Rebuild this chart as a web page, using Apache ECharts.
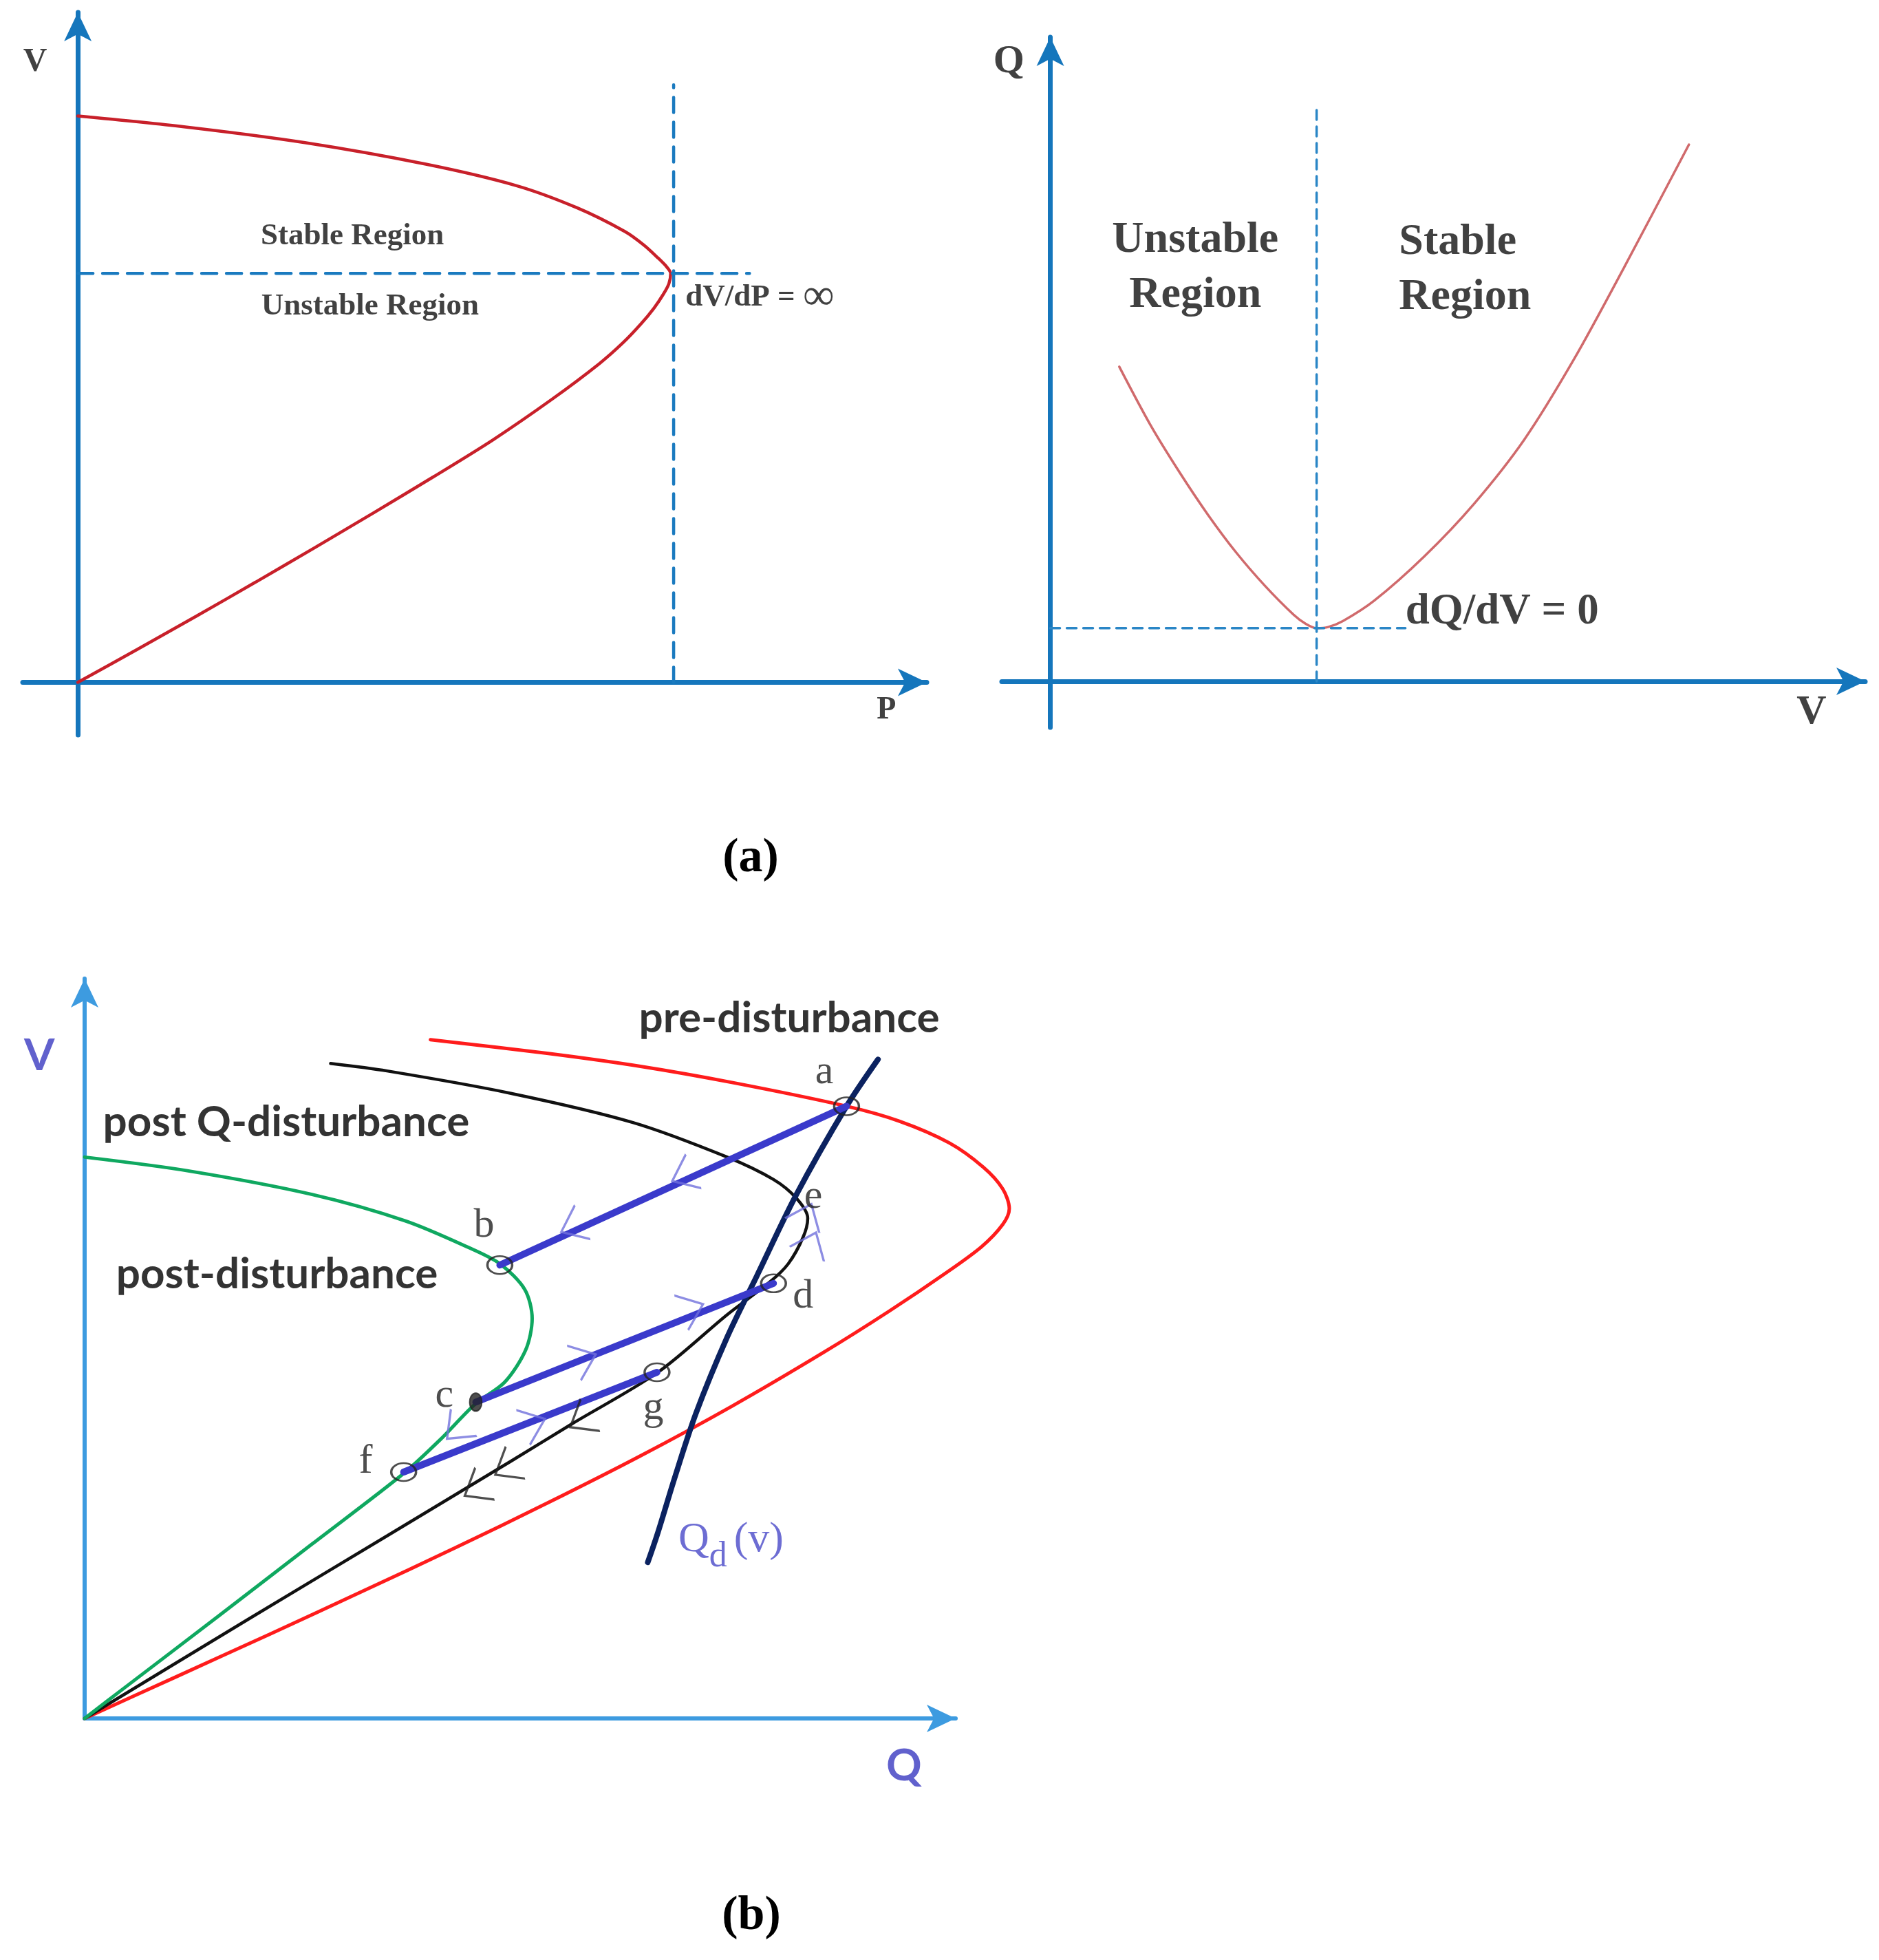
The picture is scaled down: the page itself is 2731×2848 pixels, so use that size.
<!DOCTYPE html>
<html>
<head>
<meta charset="utf-8">
<script src="https://cdn.jsdelivr.net/npm/echarts@6/dist/echarts.min.js"></script>
<style>
    html, body {margin: 0; padding: 0; background: #fff;}
    #main {width: 2731px; height: 2848px;}
</style>
</head>
<body>
<div id="main"></div>
<script>
    //(a) left : P-V nose curve  [P, V]
    var pvCurve = [[0, 1.000], [0.179, 0.981], [0.383, 0.953], [0.587, 0.915], [0.740, 0.877], [0.842, 0.838],
        [0.923, 0.796], [0.955, 0.772], [0.978, 0.750], [0.993, 0.734], [1.000, 0.722], [0.997, 0.704],
        [0.988, 0.686], [0.972, 0.661], [0.950, 0.633], [0.920, 0.600], [0.880, 0.563], [0.800, 0.500],
        [0.700, 0.428], [0.600, 0.363], [0.500, 0.300], [0.400, 0.238], [0.300, 0.177], [0.200, 0.117],
        [0.100, 0.058], [0, 0]];
    var pvNoseH = [[0, 0.722], [1.133, 0.722]];
    var pvNoseV = [[1.005, 0], [1.005, 1.055]];

    //(a) right : Q-V curve  [V, Q]
    var qvCurve = [[0.108, 0.586], [0.157, 0.477], [0.202, 0.390], [0.247, 0.310], [0.291, 0.240],
        [0.336, 0.178], [0.381, 0.124], [0.400, 0.107], [0.417, 0.099], [0.435, 0.101], [0.458, 0.112],
        [0.507, 0.150], [0.585, 0.232], [0.663, 0.330], [0.742, 0.450], [0.820, 0.600], [0.898, 0.770],
        [1.000, 1.000]];
    var qvMinH = [[0, 0.099], [0.556, 0.099]];
    var qvMinV = [[0.417, 0], [0.417, 1.065]];

    //(b) Q-V curves  [Q, V]
    var preDist = [[0.374, 1.000], [0.500, 0.980], [0.600, 0.961], [0.700, 0.937], [0.824, 0.902],
        [0.881, 0.880], [0.935, 0.848], [0.972, 0.812], [0.993, 0.780], [1.000, 0.751], [0.993, 0.728],
        [0.970, 0.695], [0.930, 0.655], [0.870, 0.600], [0.800, 0.540], [0.700, 0.460], [0.600, 0.386],
        [0.500, 0.317], [0.400, 0.251], [0.300, 0.187], [0.200, 0.124], [0.100, 0.062], [0, 0]];
    var postQDist = [[0.266, 0.965], [0.327, 0.954], [0.461, 0.921], [0.593, 0.878], [0.695, 0.827],
        [0.745, 0.794], [0.770, 0.766], [0.782, 0.737], [0.777, 0.709], [0.761, 0.670], [0.741, 0.643],
        [0.695, 0.595], [0.620, 0.510], [0.527, 0.434], [0.461, 0.379], [0.327, 0.269], [0.178, 0.147], [0, 0]];
    var postDist = [[0, 0.827], [0.111, 0.807], [0.246, 0.772], [0.347, 0.733], [0.415, 0.694],
        [0.449, 0.670], [0.476, 0.632], [0.484, 0.589], [0.477, 0.543], [0.454, 0.495], [0.423, 0.464],
        [0.384, 0.410], [0.345, 0.361], [0.246, 0.257], [0.145, 0.151], [0.043, 0.045], [0, 0]];
    var qdCurve = [[0.858, 0.971], [0.824, 0.902], [0.769, 0.770], [0.727, 0.652], [0.695, 0.562],
        [0.661, 0.449], [0.638, 0.354], [0.620, 0.274], [0.609, 0.230]];

    var pA = [0.824, 0.902], pB = [0.449, 0.668], pC = [0.423, 0.466];
    var pD = [0.745, 0.641], pF = [0.345, 0.363], pG = [0.619, 0.510];
    var jumps = [[pA, pB], [pC, pD], [pF, pG]];
    var circles = [pA, pB, pD, pG, pF];

    //箭头 : 位置, 方向(从 -> 到)
    var chevrons = [
        {at: [0.647, 0.799], from: pA, to: pB, c: '#7070dc'},
        {at: [0.527, 0.724], from: pA, to: pB, c: '#7070dc'},
        {at: [0.541, 0.530], from: pC, to: pD, c: '#7070dc'},
        {at: [0.657, 0.604], from: pC, to: pD, c: '#7070dc'},
        {at: [0.486, 0.435], from: pF, to: pG, c: '#7070dc'},
        {at: [0.401, 0.424], from: pC, to: pF, c: '#7070dc'},
        {at: [0.536, 0.438], from: pG, to: [0, 0], c: '#222'},
        {at: [0.455, 0.368], from: pG, to: [0, 0], c: '#222'},
        {at: [0.422, 0.337], from: pG, to: [0, 0], c: '#222'},
        {at: [0.786, 0.700], from: [0.761, 0.670], to: [0.782, 0.737], c: '#7070dc'},
        {at: [0.781, 0.742], from: [0.761, 0.670], to: [0.782, 0.737], c: '#7070dc'}
    ];

    var serif = '"Liberation Serif", "DejaVu Serif", serif';
    var sans = 'Lato, "Open Sans", sans-serif';
    var ink = '#111';

    var textsA = [
        {gi: 0, at: [-0.072, 1.095], text: 'V', s: {fontFamily: serif, fontWeight: 'bold', fontSize: 48, color: ink}},
        {gi: 0, at: [1.364, -0.049], text: 'P', s: {fontFamily: serif, fontWeight: 'bold', fontSize: 46, color: ink}},
        {gi: 0, at: [0.463, 0.788], text: 'Stable Region', s: {fontFamily: serif, fontWeight: 'bold', fontSize: 45, color: ink}},
        {gi: 0, at: [0.493, 0.664], text: 'Unstable Region', s: {fontFamily: serif, fontWeight: 'bold', fontSize: 45, color: ink}},
        {gi: 0, at: [1.025, 0.680], text: '{t|dV/dP = }{i|\u221E}', s: {
            align: 'left',
            rich: {
                t: {fontFamily: serif, fontWeight: 'bold', fontSize: 45, color: ink},
                i: {fontFamily: serif, fontSize: 64, color: ink}
            }
        }},
        {gi: 1, at: [-0.065, 1.154], text: 'Q', s: {fontFamily: serif, fontWeight: 'bold', fontSize: 58, color: ink}},
        {gi: 1, at: [1.192, -0.058], text: 'V', s: {fontFamily: serif, fontWeight: 'bold', fontSize: 60, color: ink}},
        {gi: 1, at: [0.227, 0.770], text: 'Unstable\nRegion', s: {fontFamily: serif, fontWeight: 'bold', fontSize: 64, lineHeight: 80, color: ink, align: 'center'}},
        {gi: 1, at: [0.546, 0.766], text: 'Stable\nRegion', s: {fontFamily: serif, fontWeight: 'bold', fontSize: 64, lineHeight: 80, color: ink, align: 'left'}},
        {gi: 1, at: [0.556, 0.128], text: 'dQ/dV = 0', s: {fontFamily: serif, fontWeight: 'bold', fontSize: 63, color: ink, align: 'left'}}
    ];
    var textsB = [
        {at: [-0.049, 0.976], text: 'V', s: {fontFamily: sans, fontWeight: 'bold', fontSize: 64, color: '#3a3ac0'}},
        {at: [0.886, -0.070], text: 'Q', s: {fontFamily: sans, fontWeight: 'bold', fontSize: 64, color: '#3a3ac0'}},
        {at: [0.762, 1.031], text: 'pre-disturbance', s: {fontFamily: sans, fontWeight: 'bold', fontSize: 62, color: '#000'}},
        {at: [0.218, 0.878], text: 'post Q-disturbance', s: {fontFamily: sans, fontWeight: 'bold', fontSize: 62, color: '#000'}},
        {at: [0.208, 0.654], text: 'post-disturbance', s: {fontFamily: sans, fontWeight: 'bold', fontSize: 62, color: '#000'}},
        {at: [0.800, 0.952], text: 'a', s: {fontFamily: serif, fontSize: 60, color: '#222'}},
        {at: [0.432, 0.726], text: 'b', s: {fontFamily: serif, fontSize: 60, color: '#222'}},
        {at: [0.389, 0.475], text: 'c', s: {fontFamily: serif, fontSize: 60, color: '#222'}},
        {at: [0.777, 0.621], text: 'd', s: {fontFamily: serif, fontSize: 60, color: '#222'}},
        {at: [0.788, 0.768], text: 'e', s: {fontFamily: serif, fontSize: 60, color: '#222'}},
        {at: [0.304, 0.378], text: 'f', s: {fontFamily: serif, fontSize: 60, color: '#222'}},
        {at: [0.615, 0.457], text: 'g', s: {fontFamily: serif, fontSize: 60, color: '#222'}},
        {at: [0.699, 0.263], text: '{q|Q}{d|d}{v|(v)}', s: {
            rich: {
                q: {fontFamily: serif, fontSize: 62, color: '#4848c8'},
                d: {fontFamily: serif, fontSize: 52, color: '#4848c8', padding: [50, 0, 0, 0]},
                v: {fontFamily: serif, fontSize: 62, color: '#4848c8', padding: [0, 0, 0, 10]}
            }
        }}
    ];

    function axis(gi, min, max, color, width) {
        return {
            gridIndex: gi, type: 'value', min: min, max: max,
            axisLine: {
                show: true, onZero: true, symbol: ['none', 'arrow'], symbolSize: [30, 42],
                lineStyle: {color: color, width: width}
            },
            axisTick: {show: false}, axisLabel: {show: false}, splitLine: {show: false}
        };
    }

    //隐藏的坐标轴, 与 (b) 同比例但范围更大, 让曲线不被裁掉
    function hiddenAxis(gi, min, max) {
        return {
            gridIndex: gi, type: 'value', min: min, max: max, show: false,
            axisLine: {show: false}, axisTick: {show: false}, axisLabel: {show: false}, splitLine: {show: false}
        };
    }

    function curve(gi, data, color, width, dash, z) {
        return {
            type: 'line', xAxisIndex: gi, yAxisIndex: gi, data: data, clip: false,
            smooth: dash ? false : 0.3, showSymbol: false, symbol: 'none', silent: true,
            lineStyle: {color: color, width: width, type: dash || 'solid', cap: 'round'},
            z: z || 2
        };
    }

    function textSeries(items) {
        return items.map(function (it) {
            var gi = it.gi === undefined ? 3 : it.gi;
            return {
                type: 'scatter', xAxisIndex: gi, yAxisIndex: gi, symbolSize: 1, silent: true, clip: false, z: 20,
                itemStyle: {color: 'rgba(0,0,0,0)'},
                data: [{
                    value: it.at,
                    label: Object.assign({show: true, position: 'inside', formatter: it.text}, it.s)
                }]
            };
        });
    }

    //(b) 像素比例
    var bLeft = 123, bTop = 1422, bW = 1266, bH = 1075, bXMax = 0.942, bYMax = 1.090, bXMaxWide = 1.15;

    var series = [
        curve(0, pvCurve, '#c8202a', 4.5),
        curve(0, pvNoseH, '#1a7abf', 4.5, [22, 14]),
        curve(0, pvNoseV, '#1a7abf', 4.5, [22, 14]),
        curve(1, qvCurve, '#d06a6c', 3.5),
        curve(1, qvMinH, '#2a86c6', 3.5, [14, 10]),
        curve(1, qvMinV, '#2a86c6', 3.5, [14, 10]),
        curve(3, preDist, '#ff1c1c', 5),
        curve(3, postQDist, '#111', 4.5),
        curve(3, postDist, '#0fa860', 5),
        curve(3, qdCurve, '#0b2260', 8, null, 4)
    ];
    jumps.forEach(function (j) {
        var s = curve(3, j, '#3a3acb', 10, null, 5);
        s.smooth = false;
        series.push(s);
    });
    series.push({
        type: 'scatter', xAxisIndex: 3, yAxisIndex: 3, silent: true, z: 6,
        symbol: 'circle', symbolSize: [36, 26],
        itemStyle: {color: 'rgba(255,255,255,0)', borderColor: '#222', borderWidth: 3},
        data: circles
    });
    series.push({
        type: 'scatter', xAxisIndex: 3, yAxisIndex: 3, silent: true, z: 6,
        symbol: 'circle', symbolSize: [18, 26],
        itemStyle: {color: '#222', borderColor: '#222', borderWidth: 2},
        data: [pC]
    });
    series = series.concat(textSeries(textsA)).concat(textSeries(textsB));

    var option = {
        backgroundColor: '#fff',
        animation: false,
        grid: [
            {left: 33, top: 18, width: 1314, height: 1050},
            {left: 1456, top: 54, width: 1255, height: 1003},
            {left: bLeft, top: bTop, width: bW, height: bH},
            {left: bLeft, top: bTop, width: bW * bXMaxWide / bXMax, height: bH}
        ],
        xAxis: [
            axis(0, -0.093, 1.432, '#1576bc', 7),
            axis(1, -0.076, 1.276, '#1576bc', 7),
            axis(2, 0, bXMax, '#3d9be0', 6),
            hiddenAxis(3, 0, bXMaxWide)
        ],
        yAxis: [
            axis(0, -0.093, 1.183, '#1576bc', 7),
            axis(1, -0.086, 1.200, '#1576bc', 7),
            axis(2, 0, bYMax, '#3d9be0', 6),
            hiddenAxis(3, 0, bYMax)
        ],
        graphic: [
            {type: 'text', x: 1091, y: 1248, style: {text: '(a)', font: 'bold 70px "Liberation Serif", serif', fill: '#000', align: 'center', verticalAlign: 'middle'}},
            {type: 'text', x: 1092, y: 2785, style: {text: '(b)', font: 'bold 70px "Liberation Serif", serif', fill: '#000', align: 'center', verticalAlign: 'middle'}}
        ],
        series: series
    };

    var chart = echarts.init(document.getElementById('main'));
    chart.setOption(option);

    //箭头方向按像素计算
    var chevData = chevrons.map(function (ch) {
        var p1 = chart.convertToPixel({gridIndex: 3}, ch.from);
        var p2 = chart.convertToPixel({gridIndex: 3}, ch.to);
        var ang = Math.atan2(-(p2[1] - p1[1]), p2[0] - p1[0]) * 180 / Math.PI;
        return {value: ch.at, symbolRotate: ang, itemStyle: {borderColor: ch.c}};
    });
    series.push({
        type: 'scatter', xAxisIndex: 3, yAxisIndex: 3, silent: true, z: 7,
        symbol: 'path://M0,0L10,5L0,10', symbolSize: [34, 54],
        itemStyle: {color: 'rgba(0,0,0,0)', borderWidth: 3},
        data: chevData
    });
    chart.setOption({series: series});
</script>
</body>
</html>
